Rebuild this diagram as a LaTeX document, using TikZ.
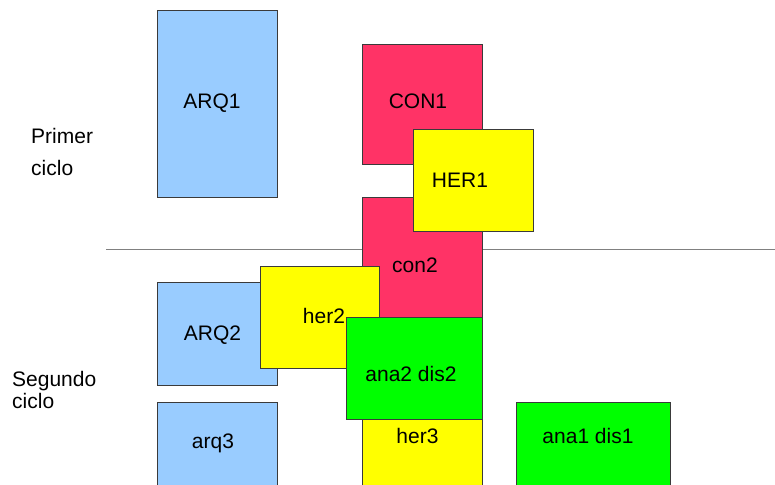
\documentclass[tikz,border=0pt]{standalone}
\usepackage{fontspec}
\setmainfont{Liberation Sans}
\definecolor{cblue}{HTML}{99CCFF}
\definecolor{cred}{HTML}{FF3366}
\definecolor{cyel}{HTML}{FFFF00}
\definecolor{cgreen}{HTML}{00FF00}
\definecolor{cedge}{HTML}{3A3A3A}
\tikzset{
  box/.style={draw=cedge, line width=0.9pt, inner sep=0pt, anchor=north west, rectangle},
  txt/.style={anchor=base, inner sep=0pt, font=\fontsize{21}{25}\selectfont},
  side/.style={anchor=base west, inner sep=0pt, font=\fontsize{21}{25}\selectfont},
}
\begin{document}
\begin{tikzpicture}[x=1pt,y=-1pt]
\clip (0,0) rectangle (775,484);
\fill[white] (0,0) rectangle (775,484);
% separator line
\coordinate (l1) at (106,249);
\coordinate (l2) at (775,249);
\draw[line width=1pt, color=gray] (l1) -- (l2);
% first cycle
\node[box, fill=cblue, minimum width=120pt, minimum height=187pt] (arq1) at (157,10) {};
\node[txt] (arq1t) at (212,108.3) {ARQ1};
\node[box, fill=cred, minimum width=120pt, minimum height=120pt] (con1) at (362,44) {};
\node[txt] (con1t) at (418,108.3) {CON1};
\node[box, fill=cred, minimum width=120pt, minimum height=135pt] (con2) at (362,197) {};
\node[txt] (con2t) at (415,272.3) {con2};
\node[box, fill=cyel, minimum width=120pt, minimum height=102pt] (her1) at (413,129) {};
\node[txt] (her1t) at (460,187.3) {HER1};
% second cycle
\node[box, fill=cblue, minimum width=120pt, minimum height=103pt] (arq2) at (157,282) {};
\node[txt] (arq2t) at (212.5,340.7) {ARQ2};
\node[box, fill=cyel, minimum width=119pt, minimum height=102pt] (her2) at (260,266) {};
\node[txt] (her2t) at (324,323.3) {her2};
\node[box, fill=cyel, minimum width=120pt, minimum height=110pt] (her3) at (362,390) {};
\node[txt] (her3t) at (417.5,443.3) {her3};
\node[box, fill=cgreen, minimum width=136pt, minimum height=102pt] (ana2) at (346,317) {};
\node[txt] (ana2t) at (411,381.7) {ana2 dis2};
\node[box, fill=cblue, minimum width=120pt, minimum height=100pt] (arq3) at (157,402) {};
\node[txt] (arq3t) at (213,448.3) {arq3};
\node[box, fill=cgreen, minimum width=154pt, minimum height=100pt] (ana1) at (516,402) {};
\node[txt] (ana1t) at (588,443.3) {ana1 dis1};
% side labels
\node[side] (p1) at (31,143.3) {Primer};
\node[side] (p2) at (31,175) {ciclo};
\node[side] (s1) at (12,386.7) {Segundo};
\node[side] (s2) at (12,408.3) {ciclo};
\end{tikzpicture}
\end{document}
